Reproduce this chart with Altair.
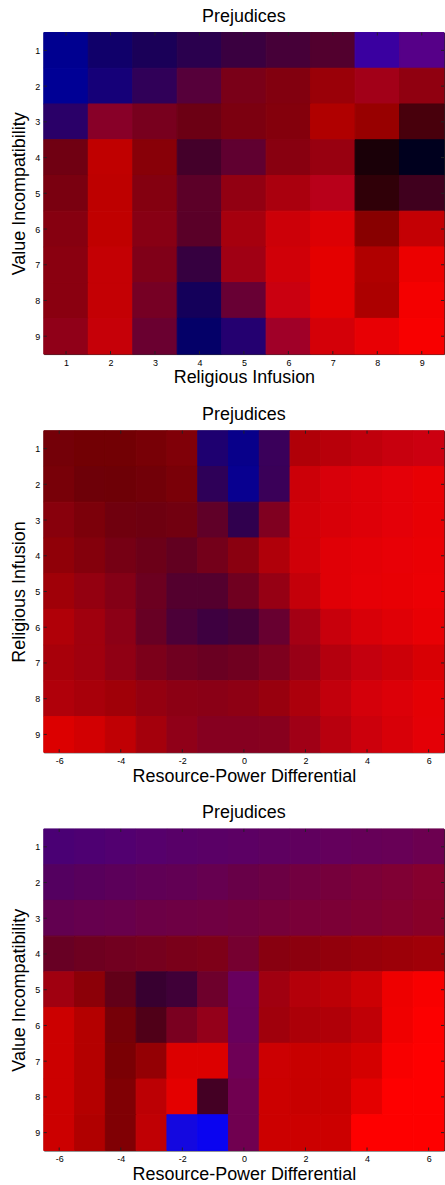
import altair as alt
import pandas as pd

# ---------------- data ----------------
ROWS = [1, 2, 3, 4, 5, 6, 7, 8, 9]
P1_COLS = [1, 2, 3, 4, 5, 6, 7, 8, 9]
P23_COLS = [-6, -5, -4, -3, -2, -1, 0, 1, 2, 3, 4, 5, 6]
P1_XTICKS = [1, 2, 3, 4, 5, 6, 7, 8, 9]
P23_XTICKS = [-6, -4, -2, 0, 2, 4, 6]

# Panel 1: Value Incompatibility (rows) x Religious Infusion (cols); red / blue intensity
P1_RED = [
    [0x00, 0x10, 0x1A, 0x2A, 0x3A, 0x46, 0x52, 0x3A, 0x56],
    [0x00, 0x15, 0x30, 0x56, 0x7A, 0x82, 0x9A, 0xA2, 0x90],
    [0x2A, 0x88, 0x78, 0x6C, 0x7C, 0x84, 0xB0, 0x98, 0x48],
    [0x70, 0xC0, 0x88, 0x44, 0x60, 0x88, 0x98, 0x1A, 0x00],
    [0x7A, 0xBE, 0x84, 0x5C, 0x92, 0xAA, 0xB8, 0x30, 0x40],
    [0x86, 0xC0, 0x88, 0x5A, 0xA6, 0xCC, 0xDC, 0x88, 0xC4],
    [0x8A, 0xC4, 0x80, 0x36, 0xA0, 0xD0, 0xE4, 0xB0, 0xEC],
    [0x8A, 0xC4, 0x76, 0x14, 0x68, 0xCA, 0xE4, 0xAC, 0xF4],
    [0x90, 0xC6, 0x6A, 0x04, 0x24, 0xA0, 0xD4, 0xE8, 0xF8],
]
P1_BLUE = [
    [0x90, 0x6A, 0x58, 0x4E, 0x40, 0x38, 0x2E, 0xA0, 0x88],
    [0x95, 0x78, 0x58, 0x3A, 0x18, 0x0F, 0x08, 0x18, 0x10],
    [0x68, 0x28, 0x1E, 0x14, 0x10, 0x0C, 0x00, 0x00, 0x0C],
    [0x12, 0x00, 0x08, 0x2A, 0x30, 0x10, 0x10, 0x08, 0x1E],
    [0x10, 0x00, 0x10, 0x28, 0x12, 0x0E, 0x1A, 0x08, 0x1E],
    [0x10, 0x00, 0x14, 0x28, 0x0E, 0x08, 0x04, 0x00, 0x04],
    [0x10, 0x04, 0x18, 0x40, 0x14, 0x08, 0x00, 0x00, 0x00],
    [0x10, 0x04, 0x24, 0x5A, 0x34, 0x10, 0x00, 0x00, 0x00],
    [0x18, 0x08, 0x30, 0x68, 0x70, 0x28, 0x08, 0x04, 0x00],
]

# Panel 2: Religious Infusion (rows) x Resource-Power Differential (cols)
P2_RED = [
    [0x74, 0x72, 0x72, 0x78, 0x80, 0x1E, 0x08, 0x3A, 0xB0, 0xB8, 0xC0, 0xC8, 0xCC],
    [0x78, 0x6E, 0x6E, 0x72, 0x7A, 0x2E, 0x08, 0x3A, 0xCC, 0xD8, 0xDE, 0xE4, 0xE8],
    [0x88, 0x7C, 0x70, 0x6E, 0x72, 0x60, 0x30, 0x80, 0xD0, 0xD8, 0xDE, 0xE4, 0xE8],
    [0x90, 0x84, 0x76, 0x6C, 0x62, 0x74, 0x8A, 0xB0, 0xD0, 0xE0, 0xE4, 0xE8, 0xEA],
    [0xA0, 0x94, 0x84, 0x6C, 0x54, 0x54, 0x70, 0x96, 0xC4, 0xE0, 0xE6, 0xE8, 0xEC],
    [0xB0, 0xA0, 0x8C, 0x68, 0x4C, 0x3E, 0x46, 0x68, 0xA4, 0xC8, 0xD8, 0xE0, 0xE8],
    [0xA8, 0xA0, 0x90, 0x7C, 0x70, 0x6A, 0x70, 0x7E, 0x98, 0xB4, 0xC4, 0xCC, 0xD8],
    [0xB0, 0xA8, 0xA0, 0x94, 0x8C, 0x8A, 0x8E, 0x98, 0xAC, 0xC2, 0xD4, 0xDC, 0xE4],
    [0xDC, 0xD2, 0xC0, 0xA4, 0x90, 0x86, 0x86, 0x88, 0xA0, 0xB8, 0xCC, 0xD8, 0xE4],
]
P2_BLUE = [
    [0x08, 0x04, 0x04, 0x06, 0x08, 0x70, 0x8A, 0x5A, 0x08, 0x0A, 0x0C, 0x0E, 0x10],
    [0x08, 0x08, 0x06, 0x08, 0x08, 0x58, 0x90, 0x58, 0x08, 0x0A, 0x08, 0x08, 0x04],
    [0x0C, 0x0A, 0x0E, 0x10, 0x10, 0x28, 0x4E, 0x20, 0x08, 0x08, 0x08, 0x08, 0x04],
    [0x08, 0x0C, 0x14, 0x18, 0x20, 0x1A, 0x10, 0x0A, 0x08, 0x06, 0x06, 0x06, 0x04],
    [0x08, 0x10, 0x16, 0x20, 0x2E, 0x2E, 0x20, 0x14, 0x0A, 0x06, 0x06, 0x04, 0x04],
    [0x08, 0x0E, 0x16, 0x24, 0x38, 0x40, 0x38, 0x30, 0x14, 0x0C, 0x08, 0x06, 0x04],
    [0x0A, 0x0E, 0x14, 0x1A, 0x20, 0x22, 0x20, 0x1E, 0x16, 0x0E, 0x0E, 0x08, 0x04],
    [0x0A, 0x0A, 0x08, 0x10, 0x14, 0x16, 0x14, 0x0E, 0x0C, 0x0C, 0x0A, 0x08, 0x04],
    [0x00, 0x02, 0x04, 0x0C, 0x18, 0x20, 0x20, 0x1E, 0x16, 0x0E, 0x0C, 0x08, 0x06],
]

# Panel 3: Value Incompatibility (rows) x Resource-Power Differential (cols)
P3_RED = [
    [0x4A, 0x4E, 0x52, 0x56, 0x58, 0x5A, 0x5C, 0x5E, 0x60, 0x64, 0x66, 0x68, 0x6C],
    [0x54, 0x58, 0x5C, 0x60, 0x62, 0x66, 0x68, 0x6C, 0x72, 0x76, 0x7C, 0x80, 0x86],
    [0x62, 0x66, 0x68, 0x6C, 0x6E, 0x70, 0x72, 0x76, 0x7A, 0x7C, 0x80, 0x84, 0x88],
    [0x68, 0x6E, 0x72, 0x76, 0x7A, 0x7E, 0x76, 0x88, 0x8C, 0x92, 0x98, 0x9C, 0xA0],
    [0xA0, 0x8C, 0x62, 0x38, 0x40, 0x6E, 0x68, 0xA0, 0xB4, 0xBC, 0xCC, 0xEE, 0xF8],
    [0xCC, 0xB4, 0x76, 0x50, 0x7A, 0x94, 0x68, 0xA0, 0xAC, 0xB0, 0xC0, 0xF0, 0xFC],
    [0xCC, 0xB4, 0x7A, 0x94, 0xDC, 0xDC, 0x6E, 0xCC, 0xC8, 0xC8, 0xD4, 0xF8, 0xFE],
    [0xCC, 0xB4, 0x80, 0xBC, 0xE4, 0x44, 0x70, 0xCC, 0xC8, 0xC8, 0xE4, 0xFE, 0xFE],
    [0xCC, 0xB0, 0x80, 0xC0, 0x14, 0x0A, 0x70, 0xCC, 0xCC, 0xCC, 0xFE, 0xFE, 0xFE],
]
P3_BLUE = [
    [0x74, 0x72, 0x70, 0x6C, 0x68, 0x66, 0x64, 0x60, 0x5E, 0x5C, 0x58, 0x56, 0x50],
    [0x60, 0x5C, 0x5A, 0x56, 0x54, 0x50, 0x48, 0x44, 0x40, 0x3C, 0x38, 0x34, 0x2E],
    [0x50, 0x4E, 0x4C, 0x46, 0x44, 0x42, 0x3E, 0x3A, 0x38, 0x36, 0x32, 0x2E, 0x28],
    [0x24, 0x20, 0x20, 0x1E, 0x1A, 0x18, 0x30, 0x10, 0x0E, 0x0C, 0x0A, 0x08, 0x08],
    [0x10, 0x08, 0x18, 0x30, 0x38, 0x2C, 0x5E, 0x10, 0x0A, 0x06, 0x04, 0x00, 0x00],
    [0x00, 0x00, 0x08, 0x18, 0x20, 0x1A, 0x5C, 0x0C, 0x08, 0x08, 0x06, 0x00, 0x00],
    [0x00, 0x00, 0x04, 0x04, 0x00, 0x00, 0x56, 0x02, 0x00, 0x00, 0x00, 0x00, 0x00],
    [0x00, 0x00, 0x04, 0x04, 0x00, 0x24, 0x50, 0x00, 0x00, 0x00, 0x00, 0x00, 0x00],
    [0x00, 0x00, 0x04, 0x04, 0xE0, 0xF0, 0x50, 0x00, 0x00, 0x00, 0x00, 0x00, 0x00],
]
P3_GREEN_ROW9 = [0, 0, 0, 0, 0x08, 0x04, 0, 0, 0, 0, 0, 0, 0]

FONT = "Liberation Sans"
W, H = 402, 323
TICK = 3
TICK_COLOR = "#222"


def table(cols, red, blue, green_last=None):
    recs = []
    for i, yv in enumerate(ROWS):
        for j, xv in enumerate(cols):
            g = green_last[j] if (green_last is not None and i == len(ROWS) - 1) else 0
            recs.append({
                "x": xv,
                "y": yv,
                "color": "#%02x%02x%02x" % (red[i][j], g, blue[i][j]),
            })
    return pd.DataFrame(recs)


def panel(df, xdom, xvals, xtitle, ytitle):
    xscale = alt.Scale(domain=xdom, nice=False, zero=False)
    yscale = alt.Scale(domain=[0.5, 9.5], nice=False, zero=False, reverse=True)
    xaxis = alt.Axis(values=xvals, title=xtitle, labelExpr="'' + datum.value")
    yaxis = alt.Axis(values=ROWS, title=ytitle, labelExpr="'' + datum.value")

    cells = (
        alt.Chart(df)
        .transform_calculate(
            x0="datum.x - 0.5", x1="datum.x + 0.5",
            y0="datum.y - 0.5", y1="datum.y + 0.5",
        )
        .mark_rect(strokeWidth=1)
        .encode(
            x=alt.X("x0:Q", scale=xscale, axis=xaxis),
            x2="x1:Q",
            y=alt.Y("y0:Q", scale=yscale, axis=yaxis),
            y2="y1:Q",
            fill=alt.Fill("color:N", scale=None),
            stroke=alt.Stroke("color:N", scale=None),
        )
    )

    xt = alt.Chart(pd.DataFrame({"t": xvals}))
    yt = alt.Chart(pd.DataFrame({"t": ROWS}))
    xenc = alt.X("t:Q", scale=xscale, axis=xaxis)
    yenc = alt.Y("t:Q", scale=yscale, axis=yaxis)
    rule = dict(color=TICK_COLOR, strokeWidth=1)
    ticks = [
        xt.mark_rule(**rule).encode(x=xenc, y=alt.value(0), y2=alt.value(TICK)),
        xt.mark_rule(**rule).encode(x=xenc, y=alt.value(H - TICK), y2=alt.value(H)),
        yt.mark_rule(**rule).encode(y=yenc, x=alt.value(0), x2=alt.value(TICK)),
        yt.mark_rule(**rule).encode(y=yenc, x=alt.value(W - TICK), x2=alt.value(W)),
    ]

    return alt.layer(cells, *ticks).properties(
        width=W, height=H,
        title=alt.TitleParams("Prejudices", fontSize=18, font=FONT,
                              fontWeight="normal", color="#000", offset=6),
    )


c1 = panel(table(P1_COLS, P1_RED, P1_BLUE), [0.5, 9.5], P1_XTICKS,
           "Religious Infusion", "Value Incompatibility")
c2 = panel(table(P23_COLS, P2_RED, P2_BLUE), [-6.5, 6.5], P23_XTICKS,
           "Resource-Power Differential", "Religious Infusion")
c3 = panel(table(P23_COLS, P3_RED, P3_BLUE, P3_GREEN_ROW9), [-6.5, 6.5], P23_XTICKS,
           "Resource-Power Differential", "Value Incompatibility")

chart = (
    alt.vconcat(c1, c2, c3, spacing=18)
    .properties(padding={"left": 10, "top": 5, "right": 0, "bottom": 0})
    .configure(background="white")
    .configure_view(stroke="#222", strokeWidth=1)
    .configure_axis(
        labelFont=FONT, labelFontSize=9, labelColor="#000",
        titleFont=FONT, titleFontSize=18, titleFontWeight="normal", titleColor="#000",
        ticks=False, domain=False, grid=False, labelPadding=4, titlePadding=2,
    )
    .configure_axisY(titlePadding=6)
)

chart.save("out.html", embed_options={"renderer": "svg", "actions": False})
